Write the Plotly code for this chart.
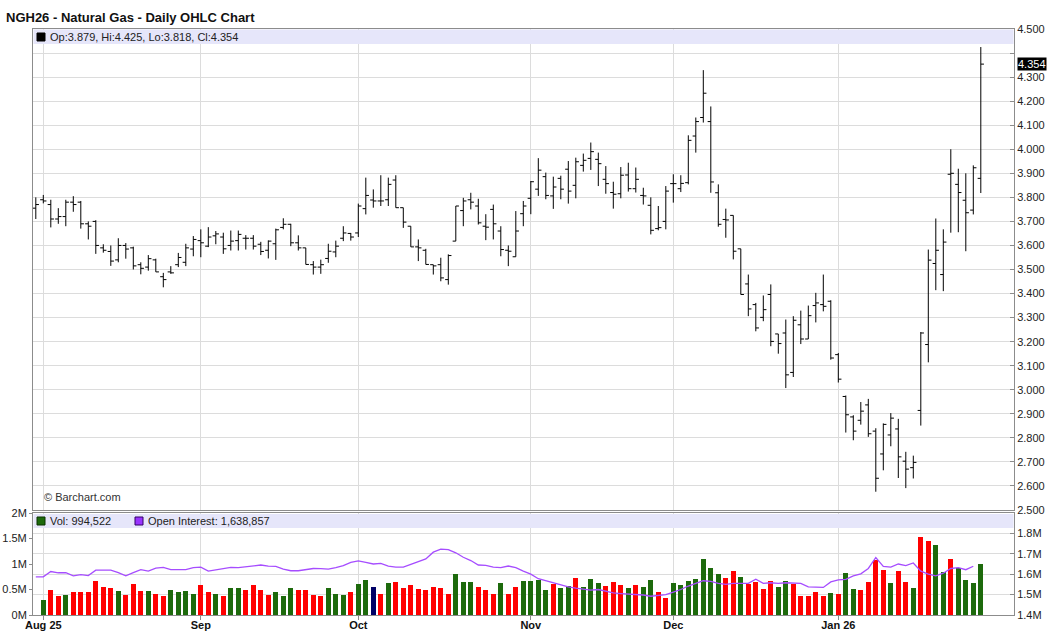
import plotly.graph_objects as go

# ---------------- data ----------------
title_text = "NGH26 - Natural Gas - Daily OHLC Chart"

# trading-day index (-1 = last bar before Aug 1, 2025)
bar_index = list(range(-1, 126))

opens = [3.755, 3.79, 3.77, 3.71, 3.72, 3.78, 3.78, 3.69, 3.70, 3.59, 3.575, 3.54, 3.60, 3.59, 3.52, 3.51,
         3.54, 3.47, 3.49, 3.52, 3.53, 3.585, 3.62, 3.597, 3.64, 3.635, 3.60, 3.62, 3.63, 3.63, 3.605,
         3.58, 3.607, 3.675, 3.688, 3.611, 3.59, 3.52, 3.51, 3.546, 3.573, 3.63, 3.65, 3.652, 3.753,
         3.789, 3.785, 3.79, 3.872, 3.757, 3.68, 3.594, 3.58, 3.52, 3.52, 3.458, 3.618, 3.745, 3.79,
         3.764, 3.68, 3.75, 3.66, 3.58, 3.553, 3.732, 3.796, 3.834, 3.886, 3.806, 3.879, 3.917, 3.85,
         3.933, 3.962, 3.958, 3.875, 3.82, 3.815, 3.893, 3.836, 3.808, 3.767, 3.67, 3.70, 3.857, 3.836,
         3.861, 4.055, 4.132, 4.115, 3.819, 3.708, 3.725, 3.586, 3.44, 3.354, 3.301, 3.396, 3.232,
         3.236, 3.072, 3.27, 3.211, 3.35, 3.354, 3.368, 3.146, 2.972, 2.887, 2.873, 2.937, 2.828,
         2.733, 2.812, 2.837, 2.703, 2.676, 2.914, 3.188, 3.525, 3.479, 3.896, 3.854, 3.788, 3.747,
         3.879]
highs = [3.80, 3.81, 3.79, 3.755, 3.79, 3.805, 3.785, 3.70, 3.705, 3.605, 3.60, 3.63, 3.61, 3.595, 3.53,
         3.56, 3.545, 3.486, 3.514, 3.569, 3.607, 3.639, 3.667, 3.676, 3.66, 3.653, 3.662, 3.662, 3.643,
         3.643, 3.615, 3.621, 3.67, 3.713, 3.69, 3.642, 3.59, 3.535, 3.541, 3.607, 3.62, 3.68, 3.652,
         3.774, 3.882, 3.833, 3.892, 3.882, 3.892, 3.757, 3.68, 3.625, 3.586, 3.52, 3.549, 3.563, 3.764,
         3.798, 3.819, 3.794, 3.73, 3.77, 3.68, 3.60, 3.743, 3.785, 3.868, 3.963, 3.903, 3.886, 3.89,
         3.951, 3.965, 3.982, 4.028, 3.986, 3.93, 3.865, 3.926, 3.944, 3.924, 3.84, 3.80, 3.764, 3.847,
         3.896, 3.892, 4.058, 4.132, 4.329, 4.178, 3.854, 3.753, 3.725, 3.586, 3.479, 3.361, 3.392,
         3.438, 3.232, 3.292, 3.306, 3.329, 3.35, 3.403, 3.479, 3.372, 3.153, 2.976, 2.894, 2.949,
         2.962, 2.84, 2.86, 2.903, 2.879, 2.742, 2.726, 3.24, 3.583, 3.712, 3.667, 4.0, 3.919, 3.90,
         3.933, 4.425]
lows = [3.71, 3.775, 3.675, 3.69, 3.68, 3.74, 3.67, 3.625, 3.565, 3.57, 3.515, 3.53, 3.545, 3.50, 3.48,
        3.495, 3.49, 3.426, 3.482, 3.51, 3.514, 3.555, 3.551, 3.593, 3.605, 3.565, 3.579, 3.579, 3.583,
        3.583, 3.56, 3.546, 3.54, 3.667, 3.597, 3.579, 3.521, 3.479, 3.482, 3.528, 3.551, 3.618, 3.62,
        3.635, 3.729, 3.757, 3.764, 3.764, 3.757, 3.673, 3.594, 3.535, 3.521, 3.479, 3.451, 3.437,
        3.618, 3.68, 3.75, 3.687, 3.622, 3.625, 3.555, 3.514, 3.553, 3.68, 3.73, 3.806, 3.792, 3.752,
        3.792, 3.774, 3.796, 3.907, 3.914, 3.847, 3.815, 3.753, 3.796, 3.824, 3.82, 3.77, 3.646, 3.663,
        3.667, 3.778, 3.822, 3.854, 3.986, 4.111, 3.819, 3.678, 3.632, 3.542, 3.396, 3.306, 3.243,
        3.285, 3.181, 3.15, 3.007, 3.053, 3.19, 3.211, 3.28, 3.326, 3.125, 3.03, 2.822, 2.79, 2.855,
        2.804, 2.576, 2.665, 2.765, 2.633, 2.591, 2.631, 2.851, 3.114, 3.414, 3.41, 3.653, 3.655,
        3.576, 3.729, 3.818]
closes = [3.77, 3.785, 3.71, 3.72, 3.78, 3.77, 3.69, 3.68, 3.60, 3.58, 3.535, 3.60, 3.585, 3.515, 3.505,
          3.545, 3.49, 3.458, 3.486, 3.55, 3.59, 3.625, 3.611, 3.635, 3.648, 3.586, 3.618, 3.646, 3.63,
          3.597, 3.575, 3.618, 3.665, 3.688, 3.611, 3.59, 3.521, 3.51, 3.52, 3.576, 3.597, 3.652, 3.635,
          3.764, 3.808, 3.785, 3.785, 3.854, 3.757, 3.697, 3.594, 3.59, 3.521, 3.515, 3.465, 3.558,
          3.764, 3.785, 3.78, 3.694, 3.676, 3.69, 3.583, 3.576, 3.66, 3.764, 3.865, 3.913, 3.808, 3.843,
          3.834, 3.826, 3.948, 3.954, 3.99, 3.94, 3.857, 3.813, 3.892, 3.836, 3.875, 3.806, 3.663, 3.674,
          3.826, 3.857, 3.858, 4.037, 4.115, 4.233, 3.864, 3.688, 3.706, 3.576, 3.396, 3.336, 3.257,
          3.333, 3.201, 3.192, 3.062, 3.289, 3.211, 3.308, 3.361, 3.347, 3.132, 3.044, 2.896, 2.828,
          2.911, 2.817, 2.632, 2.856, 2.882, 2.721, 2.67, 2.698, 3.236, 3.539, 3.58, 3.614, 3.90, 3.82,
          3.736, 3.923, 4.354]

# volume (millions) for trading days 0..125, and up/down/unchanged flag
volume_index = list(range(0, 126))
volume_m = [0.30, 0.49, 0.37, 0.40, 0.46, 0.46, 0.45, 0.66, 0.55, 0.53, 0.47, 0.40, 0.60, 0.48, 0.47,
            0.42, 0.38, 0.50, 0.45, 0.48, 0.42, 0.59, 0.46, 0.42, 0.37, 0.52, 0.52, 0.50, 0.58, 0.50,
            0.40, 0.45, 0.38, 0.53, 0.49, 0.50, 0.40, 0.37, 0.53, 0.42, 0.40, 0.45, 0.60, 0.69, 0.55,
            0.42, 0.62, 0.64, 0.53, 0.58, 0.51, 0.49, 0.55, 0.53, 0.41, 0.80, 0.64, 0.64, 0.55, 0.49,
            0.42, 0.62, 0.42, 0.55, 0.66, 0.667, 0.687, 0.487, 0.613, 0.533, 0.567, 0.727, 0.547, 0.707,
            0.62, 0.567, 0.647, 0.587, 0.527, 0.587, 0.547, 0.687, 0.447, 0.327, 0.62, 0.587, 0.66,
            0.707, 1.107, 0.927, 0.807, 0.727, 0.867, 0.747, 0.607, 0.647, 0.507, 0.667, 0.547, 0.667,
            0.607, 0.367, 0.367, 0.447, 0.367, 0.427, 0.407, 0.827, 0.507, 0.487, 0.647, 1.087, 0.887,
            0.627, 0.867, 0.647, 0.527, 1.527, 1.447, 1.367, 0.847, 1.107, 0.927, 0.687, 0.627, 0.994522]
volume_dir = ("udduddddddudddudduuuudduduudddduuuddddu"
              "uuduundudddddddduuudddudduu"
              "uuduuduuuddduduudduuuuuuuddudddduuddddduduudddduddudduuduuuuuudduu")

# open interest (millions) for bars -1..125 (last day not yet reported)
open_interest_m = [1.587, 1.587, 1.613, 1.607, 1.607, 1.592, 1.598, 1.593, 1.62, 1.62, 1.62, 1.608, 1.592,
                   1.608, 1.622, 1.615, 1.63, 1.633, 1.622, 1.622, 1.622, 1.632, 1.635, 1.615, 1.622,
                   1.628, 1.633, 1.632, 1.637, 1.64, 1.645, 1.64, 1.638, 1.625, 1.617, 1.617, 1.622,
                   1.628, 1.627, 1.625, 1.632, 1.642, 1.658, 1.665, 1.658, 1.65, 1.653, 1.64, 1.635,
                   1.635, 1.648, 1.663, 1.675, 1.708, 1.723, 1.72, 1.705, 1.683, 1.667, 1.645, 1.643,
                   1.635, 1.632, 1.64, 1.632, 1.615, 1.60, 1.578, 1.568, 1.558, 1.545, 1.538, 1.532,
                   1.528, 1.522, 1.525, 1.517, 1.508, 1.505, 1.503, 1.503, 1.498, 1.492, 1.495, 1.50,
                   1.512, 1.525, 1.542, 1.555, 1.568, 1.565, 1.555, 1.55, 1.555, 1.555, 1.555, 1.575,
                   1.555, 1.558, 1.555, 1.558, 1.557, 1.555, 1.538, 1.538, 1.535, 1.562, 1.572, 1.575,
                   1.592, 1.602, 1.628, 1.682, 1.638, 1.635, 1.65, 1.642, 1.655, 1.615, 1.60, 1.592,
                   1.605, 1.628, 1.632, 1.622, 1.638857, None]

month_tick_index = [0, 21, 42, 65, 84, 106]
month_labels = ["Aug 25", "Sep", "Oct", "Nov", "Dec", "Jan 26"]

price_ticks = [round(2.5 + 0.1 * k, 1) for k in range(21)]
vol_ticks = [0, 0.5, 1, 1.5, 2]
oi_ticks = [1.4, 1.5, 1.6, 1.7, 1.8]

# ---------------- geometry helpers ----------------
W, H = 1058, 643
ML, MR, MT, MB = 33, 44, 29, 28
PW, PH = W - ML - MR, H - MT - MB


def xp(px):
    return (px - ML) / PW


def yp(py):
    return (H - MB - py) / PH


FONT = "Liberation Sans, Arial, sans-serif"
GREEN, RED, NAVY = "#1d6a0c", "#ff0000", "#000066"
PURPLE = "#a64dff"
GRID = "#dcdcdc"
AXIS = "#8c8c8c"
BAND = "#e6e6fa"

dir_color = {"u": GREEN, "d": RED, "n": NAVY}
vol_colors = [dir_color[c] for c in volume_dir[:len(volume_m)]]

last_close = closes[-1]

fig = go.Figure()

fig.add_trace(go.Ohlc(
    x=bar_index, open=opens, high=highs, low=lows, close=closes,
    increasing=dict(line=dict(color="black", width=1)),
    decreasing=dict(line=dict(color="black", width=1)),
    tickwidth=0.42, xaxis="x", yaxis="y", showlegend=False, hoverinfo="skip"))

fig.add_trace(go.Bar(
    x=volume_index, y=volume_m, marker=dict(color=vol_colors, line=dict(width=0)),
    width=0.68, xaxis="x2", yaxis="y2", showlegend=False, hoverinfo="skip"))

fig.add_trace(go.Scatter(
    x=bar_index, y=open_interest_m, mode="lines", line=dict(color=PURPLE, width=1.3),
    xaxis="x2", yaxis="y3", showlegend=False, hoverinfo="skip", connectgaps=False))

xr = [(ML - 43.3) / 7.5, (ML + PW - 43.3) / 7.5]
price_bottom = yp(510)
vol_top = yp(513)

price_ticktext = ["" if abs(t - last_close) < 0.05 else f"{t:.3f}" for t in price_ticks]

fig.update_layout(
    width=W, height=H,
    margin=dict(l=ML, r=MR, t=MT, b=MB, pad=0, autoexpand=False),
    paper_bgcolor="white", plot_bgcolor="white",
    font=dict(family=FONT, size=11, color="#222"),
    hovermode=False,
    title=dict(text="<b>" + title_text + "</b>", x=6 / W, xanchor="left", xref="container",
               y=1 - 17 / H, yanchor="middle", yref="container", automargin=False,
               font=dict(family=FONT, size=13, color="#111")),
    xaxis=dict(domain=[0, 1], anchor="y", range=xr, rangeslider=dict(visible=False),
               tickvals=month_tick_index, showticklabels=False, ticks="", automargin=False,
               showgrid=True, gridcolor=GRID, gridwidth=1, zeroline=False,
               showline=True, linecolor=AXIS, linewidth=1, mirror=True),
    yaxis=dict(domain=[price_bottom, 1], anchor="x", range=[2.5, 4.5], side="right",
               tickvals=price_ticks, ticktext=price_ticktext, ticks="inside", ticklen=4,
               tickcolor=AXIS, showgrid=True, gridcolor=GRID, gridwidth=1, zeroline=False,
               showline=True, linecolor=AXIS, linewidth=1, mirror=True, automargin=False,
               tickfont=dict(size=11, color="#222")),
    xaxis2=dict(domain=[0, 1], anchor="y2", matches="x", range=xr, automargin=False,
                tickvals=month_tick_index, ticktext=["<b>" + m + "</b>" for m in month_labels],
                ticks="outside", ticklen=4, tickcolor=AXIS, ticklabelstandoff=-4,
                showgrid=True, gridcolor=GRID, gridwidth=1, zeroline=False,
                showline=True, linecolor=AXIS, linewidth=1, mirror=True,
                tickfont=dict(size=11, color="#111")),
    yaxis2=dict(domain=[0, vol_top], anchor="x2", range=[0, 2], side="left", automargin=False,
                tickvals=vol_ticks, ticktext=[f"{v:g}M" for v in vol_ticks],
                ticks="outside", ticklen=3, tickcolor=AXIS, showgrid=False, zeroline=False,
                showline=True, linecolor=AXIS, linewidth=1,
                tickfont=dict(size=11, color="#222")),
    yaxis3=dict(overlaying="y2", anchor="x2", side="right", range=[1.4, 1.9], automargin=False,
                tickvals=oi_ticks, ticktext=[f"{v:g}M" for v in oi_ticks],
                ticks="inside", ticklen=4, tickcolor=AXIS,
                showgrid=True, gridcolor=GRID, gridwidth=1, zeroline=False,
                showline=True, linecolor=AXIS, linewidth=1,
                tickfont=dict(size=11, color="#222")),
    bargap=0,
)

shapes = [
    # legend bands
    dict(type="rect", xref="paper", yref="paper", x0=xp(33.5), x1=xp(ML + PW - 0.5),
         y0=yp(44), y1=yp(29.5), fillcolor=BAND, line=dict(width=0), layer="above"),
    dict(type="rect", xref="paper", yref="paper", x0=xp(33.5), x1=xp(ML + PW - 0.5),
         y0=yp(528), y1=yp(514), fillcolor=BAND, line=dict(width=0), layer="above"),
    # legend squares
    dict(type="rect", xref="paper", yref="paper", x0=xp(37), x1=xp(45), y0=yp(41), y1=yp(33),
         fillcolor="black", line=dict(color="black", width=1), layer="above"),
    dict(type="rect", xref="paper", yref="paper", x0=xp(37), x1=xp(45), y0=yp(525), y1=yp(517),
         fillcolor=GREEN, line=dict(color="#0b3300", width=1), layer="above"),
    dict(type="rect", xref="paper", yref="paper", x0=xp(135), x1=xp(143), y0=yp(525), y1=yp(517),
         fillcolor="#9933ff", line=dict(color="#330066", width=1), layer="above"),
]

last_oi = [v for v in open_interest_m if v is not None][-1]
price_legend = (f"Op:{opens[-1]:.3f}, Hi:{highs[-1]:.3f}, Lo:{lows[-1]:.3f}, "
                f"Cl:{closes[-1]:.3f}")
vol_legend = f"Vol: {round(volume_m[-1] * 1e6):,}"
oi_legend = f"Open Interest: {round(last_oi * 1e6):,}"

annotations = [
    dict(text=price_legend, xref="paper", yref="paper", x=xp(48), y=yp(37),
         xanchor="left", yanchor="middle", showarrow=False, font=dict(size=11, color="#222")),
    dict(text=vol_legend, xref="paper", yref="paper", x=xp(48), y=yp(521),
         xanchor="left", yanchor="middle", showarrow=False, font=dict(size=11, color="#222")),
    dict(text=oi_legend, xref="paper", yref="paper", x=xp(146), y=yp(521),
         xanchor="left", yanchor="middle", showarrow=False, font=dict(size=11, color="#222")),
    dict(text="© Barchart.com", xref="paper", yref="paper", x=xp(42), y=yp(497),
         xanchor="left", yanchor="middle", showarrow=False, font=dict(size=11, color="#333")),
    dict(text=f"{last_close:.3f}", xref="paper", yref="y", x=xp(ML + PW + 3), y=last_close,
         xanchor="left", yanchor="middle", showarrow=False, bgcolor="black", borderpad=0,
         font=dict(size=11, color="white")),
]

fig.update_layout(shapes=shapes, annotations=annotations)

fig.write_html(
    "out.html",
    config={"displayModeBar": False},
    post_script="document.body.style.margin='0px';document.body.style.overflow='hidden';",
)
